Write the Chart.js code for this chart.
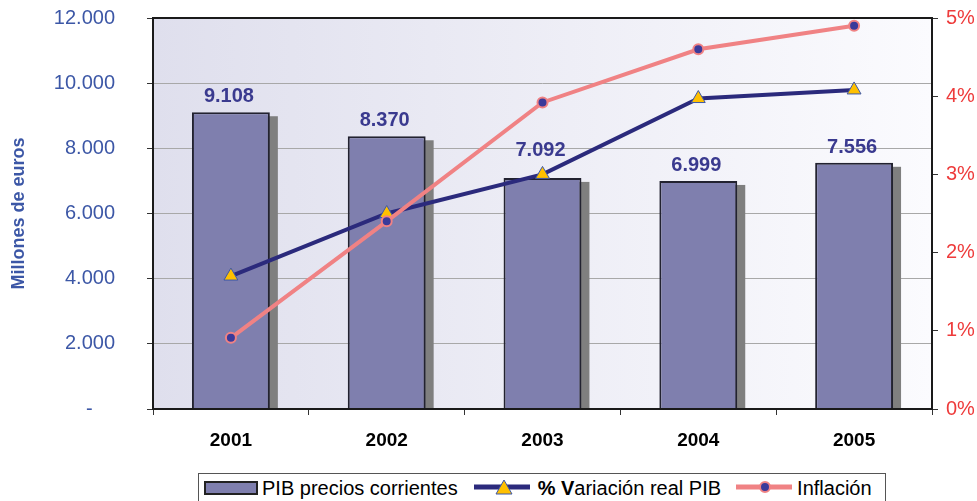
<!DOCTYPE html>
<html>
<head>
<meta charset="utf-8">
<script src="https://cdn.jsdelivr.net/npm/chart.js@4/dist/chart.umd.min.js"></script>
<style>
  html, body { margin: 0; padding: 0; background: #fff; }
  #wrap { position: relative; width: 977px; height: 501px; overflow: hidden; font-family: 'Liberation Sans', Arial, sans-serif; }
  #legend {
    position: absolute; left: 198px; top: 473px; width: 688px; height: 36px;
    border: 1px solid #555; background: #fff; box-sizing: border-box;
    display: flex; align-items: center; font-size: 20px; color: #000; white-space: nowrap;
    padding: 0 0 6px 5px;
  }
  #legend .sw { width: 54px; height: 14px; background: #7f7fae; border: 2px solid #222; box-sizing: border-box; margin-right: 4px; }
  #legend svg { display: block; }
</style>
</head>
<body>
<div id="wrap">
  <canvas id="pibChart" width="977" height="501"></canvas>
  <div id="legend">
    <div class="sw"></div><span>PIB precios corrientes</span>
    <svg width="56" height="22" viewBox="0 0 56 22" style="margin-left:16px;margin-right:8px">
      <line x1="0" y1="10" x2="56" y2="10" stroke="#2b2a7c" stroke-width="5"/>
      <polygon points="30,3 38,17 22,17" fill="#ffc000" stroke="#3d58a8" stroke-width="1"/>
    </svg>
    <span><b>% V</b>ariación real PIB</span>
    <svg width="56" height="22" viewBox="0 0 56 22" style="margin-left:15px;margin-right:5px">
      <line x1="0" y1="10" x2="56" y2="10" stroke="#f08284" stroke-width="5"/>
      <circle cx="29" cy="10" r="5" fill="#3a3a9a" stroke="#f08284" stroke-width="2"/>
    </svg>
    <span>Inflación</span>
  </div>
</div>
<script>
const years = ['2001', '2002', '2003', '2004', '2005'];
const pibCorriente = [9108, 8370, 7092, 6999, 7556];
const variacionReal = [1.7, 2.5, 3.0, 3.97, 4.08];
const inflacion = [0.91, 2.4, 3.92, 4.6, 4.9];

const FONT = "'Liberation Sans', Arial, sans-serif";

function fmtMiles(v) {
  return String(v).replace(/\B(?=(\d{3})+(?!\d))/g, '.');
}

const plotBackground = {
  id: 'plotBackground',
  beforeDraw(chart) {
    const { ctx, chartArea: a } = chart;
    const g = ctx.createLinearGradient(a.left, 0, a.right, 0);
    g.addColorStop(0, '#dfdfed');
    g.addColorStop(1, '#fbfbfe');
    ctx.save();
    ctx.fillStyle = g;
    ctx.fillRect(a.left, a.top, a.right - a.left, a.bottom - a.top);
    ctx.restore();
  }
};

// y of a line dataset at pixel x (straight segments between its points)
function lineYAt(points, x) {
  for (let i = 0; i < points.length - 1; i++) {
    const p = points[i], q = points[i + 1];
    if (x >= p.x && x <= q.x) return p.y + (q.y - p.y) * (x - p.x) / (q.x - p.x);
  }
  return Infinity;
}

// grey drop shadow behind each bar, then bar value labels + plot frame
const barExtras = {
  id: 'barExtras',
  beforeDatasetsDraw(chart) {
    const { ctx, chartArea: a } = chart;
    const meta = chart.getDatasetMeta(0);
    ctx.save();
    ctx.fillStyle = '#7f7f7f';
    meta.data.forEach(bar => {
      const { x, y, width } = bar.getProps(['x', 'y', 'width'], true);
      ctx.fillRect(x - width / 2 + 8, y + 4, width, a.bottom - y - 4);
    });
    ctx.restore();
  },
  afterDatasetsDraw(chart) {
    const { ctx, chartArea: a } = chart;
    const meta = chart.getDatasetMeta(0);
    const linePts = chart.getDatasetMeta(1).data.map(p => p.getProps(['x', 'y'], true));
    ctx.save();
    ctx.font = `bold 20px ${FONT}`;
    ctx.fillStyle = '#3a3a8f';
    ctx.textAlign = 'center';
    ctx.textBaseline = 'alphabetic';
    meta.data.forEach((bar, i) => {
      const { x, y } = bar.getProps(['x', 'y'], true);
      const text = fmtMiles(pibCorriente[i]);
      const half = ctx.measureText(text).width / 2;
      let base = y - 10;
      // lift the label above the line if it would sit on it
      const lineY = Math.min(lineYAt(linePts, x - half), lineYAt(linePts, x + half), lineYAt(linePts, x));
      if (lineY < base + 4 && lineY > base - 22) base = lineY - 6;
      ctx.fillText(text, x - 2, base);
    });
    ctx.strokeStyle = '#1a1a1a';
    ctx.lineWidth = 2;
    ctx.strokeRect(a.left, a.top, a.right - a.left, a.bottom - a.top);
    ctx.restore();
  }
};

function fixWidth(w) {
  return scale => {
    scale.width = w;
    scale.paddingTop = 0;
    scale.paddingBottom = 0;
  };
}

new Chart(document.getElementById('pibChart'), {
  data: {
    labels: years,
    datasets: [
      {
        type: 'bar',
        label: 'PIB precios corrientes',
        data: pibCorriente,
        yAxisID: 'y',
        backgroundColor: '#7f7fae',
        borderColor: '#222230',
        borderWidth: 2,
        barPercentage: 0.5,
        categoryPercentage: 1,
        order: 3
      },
      {
        type: 'line',
        label: '% Variación real PIB',
        data: variacionReal,
        yAxisID: 'y1',
        borderColor: '#2b2a7c',
        borderWidth: 4,
        pointStyle: 'triangle',
        pointRadius: 8,
        pointBackgroundColor: '#ffc000',
        pointBorderColor: '#3d58a8',
        pointBorderWidth: 1,
        tension: 0,
        order: 2
      },
      {
        type: 'line',
        label: 'Inflación',
        data: inflacion,
        yAxisID: 'y1',
        borderColor: '#f08284',
        borderWidth: 4,
        pointStyle: 'circle',
        pointRadius: 5,
        pointBackgroundColor: '#3a3a9a',
        pointBorderColor: '#f08284',
        pointBorderWidth: 2,
        tension: 0,
        order: 1
      }
    ]
  },
  options: {
    responsive: false,
    animation: false,
    devicePixelRatio: 1,
    layout: { padding: { top: 18, right: 0, bottom: 0, left: 0 } },
    plugins: {
      legend: { display: false },
      tooltip: { enabled: false }
    },
    scales: {
      x: {
        offset: true,
        afterFit(scale) { scale.height = 92; },
        grid: { offset: true, drawOnChartArea: false, tickLength: 6, tickColor: '#333' },
        border: { display: false },
        ticks: { color: '#000', padding: 14, font: { family: FONT, size: 19, weight: 'bold' } }
      },
      y: {
        position: 'left',
        min: 0,
        max: 12000,
        afterFit: fixWidth(153),
        grid: { color: '#a8a8a8', tickColor: '#333', tickLength: 6 },
        border: { display: false },
        ticks: {
          stepSize: 2000,
          padding: 32,
          color: '#3c57a6',
          font: { family: FONT, size: 20 },
          callback: v => v === 0 ? '-    ' : fmtMiles(v)
        },
        title: {
          display: true,
          text: 'Millones de euros',
          color: '#3c57a6',
          padding: { top: 8, bottom: 0 },
          font: { family: FONT, size: 18, weight: 'bold' }
        }
      },
      y1: {
        position: 'right',
        min: 0,
        max: 5,
        afterFit: fixWidth(45),
        grid: { drawOnChartArea: false, tickColor: '#333', tickLength: 6 },
        border: { display: false },
        ticks: {
          stepSize: 1,
          padding: 8,
          color: '#ee3b3b',
          font: { family: FONT, size: 20 },
          callback: v => v + '%'
        }
      }
    }
  },
  plugins: [plotBackground, barExtras]
});
</script>
</body>
</html>
